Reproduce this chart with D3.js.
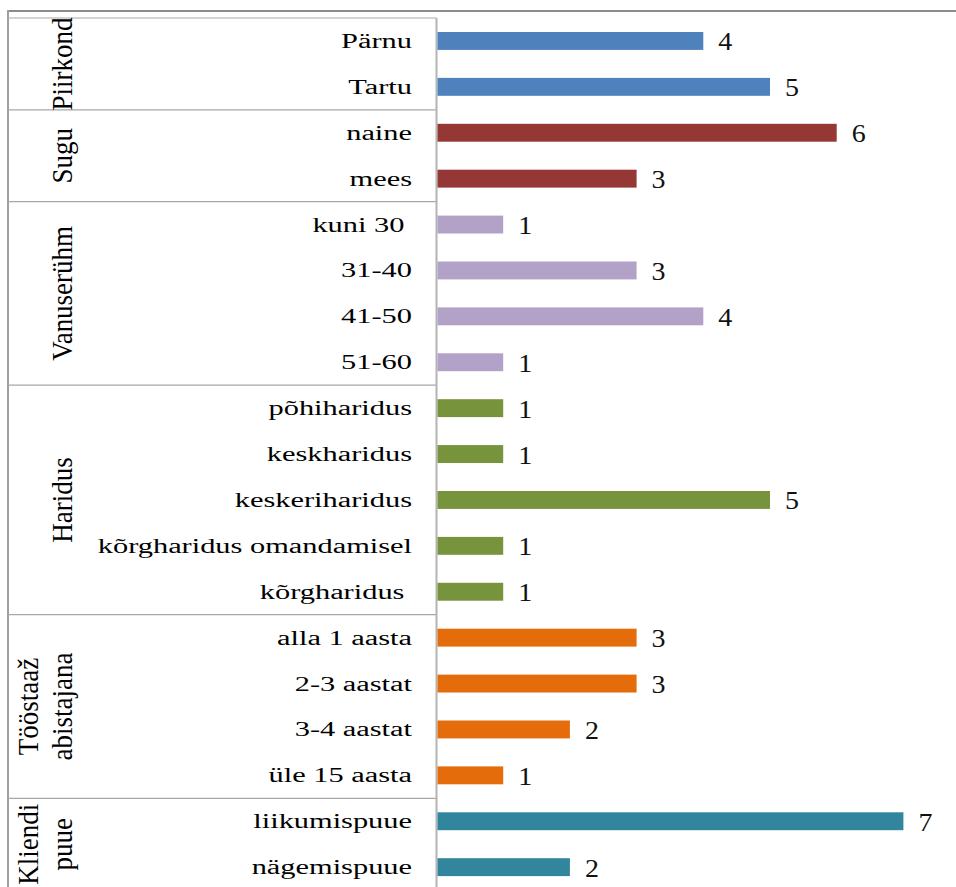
<!DOCTYPE html>
<html>
<head>
<meta charset="utf-8">
<script src="https://cdn.jsdelivr.net/npm/d3@7"></script>
<style>
  html, body { margin: 0; padding: 0; background: #fff; }
  svg { display: block; }
  text { font-family: "Liberation Serif", "Times New Roman", serif; white-space: pre; }
</style>
</head>
<body>
<svg id="chart" width="956" height="887"></svg>
<script>
// ---- data ----
const categories = ["Pärnu", "Tartu", "naine", "mees", "kuni 30 ", "31-40", "41-50", "51-60",
  "põhiharidus", "keskharidus", "keskeriharidus", "kõrgharidus omandamisel", "kõrgharidus ",
  "alla 1 aasta", "2-3 aastat", "3-4 aastat", "üle 15 aasta", "liikumispuue", "nägemispuue"];
const values = [4, 5, 6, 3, 1, 3, 4, 1, 1, 1, 5, 1, 1, 3, 3, 2, 1, 7, 2];
const groupOf = [0, 0, 1, 1, 2, 2, 2, 2, 3, 3, 3, 3, 3, 4, 4, 4, 4, 5, 5];
const groupLabels = [["Piirkond"], ["Sugu"], ["Vanuserühm"], ["Haridus"], ["Tööstaaž", "abistajana"], ["Kliendi", "puue"]];
const groupColors = ["#4F81BD", "#953735", "#B3A2C7", "#77933C", "#E46C0A", "#31859C"];

// ---- layout ----
const svg = d3.select("#chart");
const axisX = 436.5;
const topY = 18, step = 45.9;
const idx = d3.range(categories.length);

const y = d3.scaleBand().domain(idx).range([topY, topY + step * categories.length])
  .paddingInner(0.61).paddingOuter(0.305);
const x = d3.scaleLinear().domain([0, 8]).range([axisX, axisX + 8 * 66.7]);
const yc = i => y(i) + y.bandwidth() / 2;

// outer frame
svg.append("line").attr("x1", 8).attr("x2", 956).attr("y1", 11).attr("y2", 11)
  .attr("stroke", "#8c8c8c").attr("stroke-width", 2);
svg.append("line").attr("x1", 8).attr("x2", 8).attr("y1", 10).attr("y2", 887)
  .attr("stroke", "#a0a0a0").attr("stroke-width", 2);

// group boxes
const groupBounds = groupLabels.map((g, gi) => {
  const members = idx.filter(i => groupOf[i] === gi);
  const s = y.step();
  const y0 = y(members[0]) - y.paddingInner() * s / 2;
  const y1 = y(members[members.length - 1]) + y.bandwidth() + y.paddingInner() * s / 2;
  return { y0, y1 };
});
const seps = [topY].concat(groupBounds.map(b => b.y1));
svg.selectAll("line.sep").data(seps).join("line").attr("class", "sep")
  .attr("x1", 8).attr("x2", axisX).attr("y1", d => d).attr("y2", d => d)
  .attr("stroke", "#a8a8a8").attr("stroke-width", 1.2);

// axis line
svg.append("line").attr("x1", axisX).attr("x2", axisX).attr("y1", topY).attr("y2", 887)
  .attr("stroke", "#b4b4b4").attr("stroke-width", 2);

// bars
svg.selectAll("rect.bar").data(idx).join("rect").attr("class", "bar")
  .attr("x", axisX + 1).attr("y", i => y(i))
  .attr("width", i => x(values[i]) - axisX - 1).attr("height", y.bandwidth())
  .attr("fill", i => groupColors[groupOf[i]]);

// category labels
svg.selectAll("text.cat").data(idx).join("text").attr("class", "cat")
  .attr("transform", i => `translate(412,${yc(i) + 7}) scale(1.52,1)`)
  .attr("text-anchor", "end").attr("font-size", 20).attr("fill", "#000")
  .text(i => categories[i]);

// value labels
svg.selectAll("text.val").data(idx).join("text").attr("class", "val")
  .attr("transform", i => `translate(${x(values[i]) + 15},${yc(i) + 9.5}) scale(1.12,1)`)
  .attr("font-size", 25).attr("fill", "#111")
  .text(i => values[i]);

// group labels (rotated)
groupLabels.forEach((lines, gi) => {
  const cy = (groupBounds[gi].y0 + groupBounds[gi].y1) / 2;
  const xs = lines.length === 1 ? [62] : [28, 62];
  lines.forEach((ln, li) => {
    svg.append("text")
      .attr("transform", `translate(${xs[li]},${cy}) rotate(-90) scale(1.35,1.45)`)
      .attr("text-anchor", "middle").attr("dominant-baseline", "central")
      .attr("font-size", 20).attr("fill", "#000")
      .text(ln);
  });
});
</script>
</body>
</html>
